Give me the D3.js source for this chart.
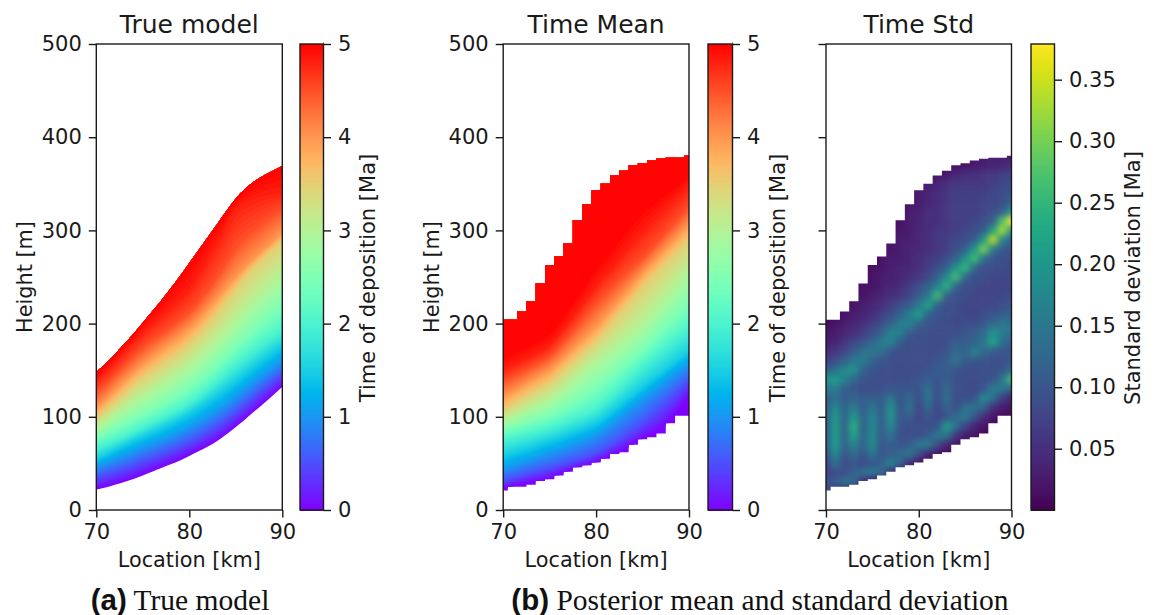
<!DOCTYPE html>
<html>
<head>
<meta charset="utf-8">
<script src="https://d3js.org/d3.v7.min.js"></script>
<style>
html, body { margin: 0; padding: 0; background: #fff; }
svg { display: block; }
text { font-family: "DejaVu Sans"; fill: #1a1a1a; }
.tick text { font-size: 21px; }
.tick line { stroke: #1a1a1a; stroke-width: 1.4; }
text.caption { font-family: "Liberation Serif"; font-size: 29.5px; fill: #111; }
</style>
</head>
<body>
<div id="chart"></div>
<script>
// km along the section, one value per model column
const locations = d3.range(70, 91);

// deposition times that the isochrones below belong to
const timeLevels = [0, 0.5, 1, 1.5, 2, 2.5, 3, 3.5, 4, 4.5, 4.8, 5];

// true model: height [m] of each isochrone per column
const trueIsochrones = [
    [22, 24, 27, 30, 33, 37, 41, 45, 49, 53, 58, 63, 68, 74, 81, 89, 97, 106, 114, 123, 132],
    [35, 38, 41, 44, 48, 52, 56, 60, 64, 68, 73, 78, 84, 90, 97, 105, 113, 122, 130, 138, 146],
    [46, 50, 54, 58, 62, 66, 70, 74, 78, 83, 88, 93, 99, 106, 113, 121, 129, 137, 145, 152, 160],
    [55, 60, 65, 70, 75, 79, 84, 88, 93, 98, 104, 110, 117, 124, 131, 139, 147, 155, 163, 170, 177],
    [67, 71, 75, 79, 84, 89, 94, 99, 104, 109, 115, 122, 130, 139, 148, 157, 165, 173, 180, 187, 193],
    [78, 83, 88, 93, 98, 103, 108, 113, 119, 125, 132, 140, 148, 157, 166, 176, 185, 195, 204, 212, 220],
    [88, 95, 102, 109, 116, 122, 128, 135, 141, 148, 155, 163, 172, 182, 192, 203, 214, 224, 234, 243, 252],
    [99, 107, 116, 125, 134, 142, 149, 156, 163, 170, 178, 188, 199, 211, 224, 238, 250, 261, 270, 279, 288],
    [110, 119, 129, 139, 148, 157, 165, 172, 180, 187, 195, 205, 216, 228, 240, 251, 261, 271, 280, 289, 298],
    [126, 135, 145, 155, 165, 174, 182, 189, 196, 204, 212, 223, 236, 250, 266, 282, 293, 301, 309, 316, 323],
    [138, 148, 158, 169, 180, 190, 199, 208, 217, 226, 235, 252, 269, 286, 305, 325, 330, 334, 337, 339, 340],
    [148, 157, 167, 178, 189, 201, 213, 225, 238, 251, 265, 279, 293, 307, 321, 335, 345, 353, 359, 364, 369]
];

// posterior mean: same isochrones as seen in the inverted section
const meanIsochrones = [
    [22, 25, 27, 29, 31, 33, 37, 41, 45, 47, 50, 55, 60, 62, 70, 76, 80, 85, 95, 108, 122],
    [32, 34, 37, 40, 42, 45, 48, 51, 54, 57, 61, 66, 72, 79, 86, 93, 102, 111, 120, 130, 139],
    [43, 47, 50, 53, 57, 60, 63, 67, 71, 75, 79, 86, 94, 102, 110, 117, 125, 133, 141, 148, 156],
    [59, 62, 65, 68, 72, 75, 78, 82, 86, 90, 94, 101, 109, 117, 125, 133, 141, 148, 156, 164, 171],
    [75, 78, 80, 83, 85, 88, 92, 96, 100, 104, 109, 118, 127, 136, 146, 155, 163, 172, 180, 188, 196],
    [86, 89, 92, 95, 99, 102, 107, 113, 119, 125, 132, 140, 148, 157, 165, 173, 183, 193, 203, 212, 222],
    [96, 100, 105, 109, 114, 118, 126, 135, 143, 152, 160, 167, 175, 183, 191, 199, 211, 223, 234, 246, 257],
    [107, 113, 119, 125, 131, 136, 145, 154, 163, 172, 180, 192, 204, 215, 227, 239, 249, 260, 270, 280, 290],
    [122, 127, 133, 139, 145, 150, 159, 169, 178, 188, 197, 209, 220, 232, 243, 255, 265, 276, 286, 297, 307],
    [138, 143, 148, 154, 159, 164, 175, 186, 198, 210, 222, 232, 242, 252, 261, 270, 281, 292, 303, 314, 325],
    [150, 155, 160, 165, 170, 175, 188, 200, 213, 227, 240, 252, 263, 275, 287, 298, 308, 318, 328, 338, 347],
    [165, 170, 175, 180, 185, 190, 204, 218, 233, 248, 262, 275, 288, 300, 313, 325, 332, 339, 346, 354, 361]
];

// upper and lower limit of the inverted section per column
const posteriorTop = [204, 204, 213, 224, 243, 263, 272, 286, 311, 328, 343, 350, 359, 364, 370, 372, 375, 377, 378, 378, 380];
const posteriorBottom = [21, 25, 25, 27, 31, 33, 37, 41, 46, 48, 51, 55, 60, 62, 70, 76, 78, 82, 93, 101, 101];

// row heights [m] for the std matrix, top row first
const stdHeights = d3.range(380, 10, -10);

// posterior std [Ma], rows follow stdHeights, columns follow locations
const stdValues = [
    [.01, .01, .01, .01, .01, .01, .01, .01, .01, .01, .01, .01, .01, .01, .01, .02, .02, .03, .03, .03, .03],
    [.01, .01, .01, .01, .01, .01, .01, .01, .01, .01, .01, .01, .01, .01, .02, .02, .03, .03, .04, .04, .05],
    [.01, .01, .01, .01, .01, .01, .01, .01, .01, .01, .01, .01, .02, .03, .04, .05, .05, .06, .06, .07, .08],
    [.01, .01, .01, .01, .01, .01, .01, .01, .01, .01, .02, .03, .04, .05, .06, .06, .06, .06, .07, .08, .09],
    [.01, .01, .01, .01, .01, .01, .01, .01, .01, .02, .03, .04, .05, .06, .07, .07, .07, .07, .08, .09, .10],
    [.01, .01, .01, .01, .01, .01, .01, .01, .01, .02, .03, .04, .05, .06, .07, .07, .07, .08, .08, .09, .12],
    [.01, .01, .01, .01, .01, .01, .01, .01, .02, .03, .03, .05, .05, .06, .07, .07, .07, .08, .09, .11, .20],
    [.01, .01, .01, .01, .01, .01, .01, .01, .02, .03, .04, .05, .05, .06, .07, .07, .08, .09, .11, .27, .42],
    [.01, .01, .01, .01, .01, .01, .01, .02, .02, .03, .04, .05, .06, .06, .07, .08, .09, .11, .22, .33, .20],
    [.01, .01, .01, .01, .01, .01, .01, .02, .03, .03, .04, .05, .06, .07, .08, .09, .11, .20, .34, .17, .12],
    [.01, .01, .01, .01, .01, .01, .02, .02, .03, .04, .04, .05, .06, .07, .09, .12, .20, .30, .16, .11, .10],
    [.01, .01, .01, .01, .01, .01, .02, .03, .03, .04, .05, .06, .07, .09, .12, .19, .26, .14, .10, .09, .09],
    [.01, .01, .01, .01, .01, .02, .02, .03, .04, .04, .05, .07, .09, .12, .19, .25, .13, .09, .09, .09, .08],
    [.01, .01, .01, .01, .01, .02, .03, .03, .04, .05, .06, .08, .12, .18, .26, .13, .09, .09, .08, .08, .08],
    [.01, .01, .01, .01, .02, .02, .03, .04, .05, .07, .09, .12, .17, .24, .12, .09, .09, .08, .08, .08, .08],
    [.01, .01, .01, .01, .02, .03, .04, .05, .06, .08, .11, .15, .26, .12, .09, .09, .08, .08, .08, .08, .09],
    [.01, .01, .01, .02, .03, .04, .05, .07, .09, .11, .15, .22, .12, .09, .09, .08, .08, .08, .08, .09, .10],
    [.01, .01, .02, .03, .04, .05, .07, .09, .12, .16, .21, .12, .10, .09, .09, .08, .08, .09, .10, .11, .12],
    [.01, .02, .03, .04, .05, .07, .09, .12, .16, .17, .12, .10, .09, .09, .08, .09, .09, .10, .13, .15, .14],
    [.02, .03, .04, .05, .07, .09, .12, .17, .16, .11, .09, .09, .09, .09, .09, .10, .11, .13, .19, .16, .14],
    [.03, .04, .06, .08, .10, .13, .16, .17, .11, .09, .09, .09, .09, .09, .11, .11, .12, .15, .22, .14, .11],
    [.05, .06, .08, .11, .14, .15, .14, .10, .09, .09, .09, .09, .09, .10, .13, .12, .17, .13, .11, .10, .10],
    [.07, .09, .12, .15, .16, .12, .10, .09, .09, .09, .09, .09, .10, .11, .14, .11, .10, .10, .09, .09, .10],
    [.12, .14, .18, .19, .12, .10, .09, .09, .09, .09, .09, .10, .11, .11, .10, .09, .09, .09, .09, .10, .14],
    [.19, .21, .17, .12, .10, .09, .09, .09, .09, .09, .10, .11, .10, .11, .09, .09, .09, .09, .10, .15, .26],
    [.15, .16, .11, .10, .09, .09, .09, .10, .10, .10, .10, .14, .09, .13, .09, .09, .08, .10, .16, .15, .12],
    [.11, .14, .11, .12, .11, .11, .11, .15, .10, .13, .09, .15, .09, .14, .09, .09, .10, .18, .14, .07, .04],
    [.11, .18, .12, .16, .11, .15, .11, .19, .10, .14, .08, .13, .08, .12, .09, .14, .14, .12, .05, .03, .02],
    [.11, .20, .12, .20, .12, .17, .11, .20, .10, .11, .08, .10, .08, .10, .13, .16, .10, .05, .02, .01, .01],
    [.11, .21, .12, .24, .12, .18, .11, .18, .10, .09, .09, .09, .10, .21, .14, .08, .04, .02, .01, .01, .01],
    [.11, .21, .12, .22, .12, .18, .11, .14, .09, .09, .09, .11, .15, .15, .06, .03, .02, .01, .01, .01, .01],
    [.11, .21, .12, .17, .12, .18, .10, .11, .10, .11, .15, .16, .09, .04, .02, .01, .01, .01, .01, .01, .01],
    [.10, .18, .10, .13, .10, .15, .10, .11, .13, .15, .09, .04, .02, .01, .01, .01, .01, .01, .01, .01, .01],
    [.08, .14, .09, .10, .09, .10, .12, .17, .12, .05, .02, .01, .01, .01, .01, .01, .01, .01, .01, .01, .01],
    [.07, .09, .09, .11, .14, .15, .13, .05, .02, .01, .01, .01, .01, .01, .01, .01, .01, .01, .01, .01, .01],
    [.09, .11, .14, .13, .05, .02, .01, .01, .01, .01, .01, .01, .01, .01, .01, .01, .01, .01, .01, .01, .01],
    [.10, .05, .02, .01, .01, .01, .01, .01, .01, .01, .01, .01, .01, .01, .01, .01, .01, .01, .01, .01, .01]
];

const xTicks = [70, 80, 90];
const yTicks = [0, 100, 200, 300, 400, 500];
const timeTicks = [0, 1, 2, 3, 4, 5];
const stdTicks = [0.05, 0.10, 0.15, 0.20, 0.25, 0.30, 0.35];
const stdRange = [0.0002, 0.379];

const width = 1157, height = 615;
const plotTop = 44, plotBottom = 510;

const svg = d3.select("#chart").append("svg")
    .attr("width", width)
    .attr("height", height);
const defs = svg.append("defs");

defs.append("filter")
    .attr("id", "smooth")
    .attr("filterUnits", "userSpaceOnUse")
    .attr("x", 0).attr("y", 0).attr("width", width).attr("height", height)
    .append("feGaussianBlur")
    .attr("stdDeviation", 3)
    .attr("color-interpolation-filters", "sRGB");

// matplotlib's "rainbow" map
function rainbow(v) {
    const r = Math.min(1, Math.abs(2 * v - 0.5));
    const g = Math.sin(Math.PI * v);
    const b = Math.cos(Math.PI * v / 2);
    return d3.rgb(r * 255, g * 255, b * 255).formatHex();
}

const timeColor = d3.scaleSequential(rainbow).domain([0, 5]);
const stdColor = d3.scaleSequential(d3.interpolateViridis).domain(stdRange);

const yScale = d3.scaleLinear().domain([0, 500]).range([plotBottom, plotTop]);

function makePlot(id, left, right, title, showLabels) {
    const x = d3.scaleLinear().domain([70, 90]).range([left, right]);
    const clipId = "clip-" + id;
    defs.append("clipPath").attr("id", clipId)
        .append("rect")
        .attr("x", left).attr("y", plotTop)
        .attr("width", right - left).attr("height", plotBottom - plotTop);

    const marks = svg.append("g").attr("clip-path", `url(#${clipId})`);

    svg.append("text")
        .attr("x", (left + right) / 2)
        .attr("y", 33)
        .attr("text-anchor", "middle")
        .style("font-size", "25px")
        .text(title);

    svg.append("text")
        .attr("x", (left + right) / 2)
        .attr("y", 567)
        .attr("text-anchor", "middle")
        .style("font-size", "20.8px")
        .text("Location [km]");

    return { x, marks, left, right, showLabels };
}

function finishPlot(plot) {
    const xAxis = d3.axisBottom(plot.x).tickValues(xTicks).tickSize(7.5).tickPadding(7).tickSizeOuter(0);
    const yAxis = d3.axisLeft(yScale).tickValues(yTicks).tickSize(7.5).tickPadding(7).tickSizeOuter(0);
    if (!plot.showLabels) yAxis.tickFormat("");

    const gx = svg.append("g").attr("transform", `translate(0,${plotBottom})`).call(xAxis);
    const gy = svg.append("g").attr("transform", `translate(${plot.left},0)`).call(yAxis);
    gx.select(".domain").remove();
    gy.select(".domain").remove();

    svg.append("rect")
        .attr("x", plot.left).attr("y", plotTop)
        .attr("width", plot.right - plot.left).attr("height", plotBottom - plotTop)
        .attr("fill", "none")
        .attr("stroke", "#1a1a1a")
        .attr("stroke-width", 1.4);

    if (plot.showLabels) {
        svg.append("text")
            .attr("transform", `translate(${plot.left - 64},${(plotTop + plotBottom) / 2}) rotate(-90)`)
            .attr("text-anchor", "middle")
            .style("font-size", "20.8px")
            .text("Height [m]");
    }
}

function drawColorbar(left, right, color, domain, ticks, format, label, labelX) {
    const scale = d3.scaleLinear().domain(domain).range([plotBottom, plotTop]);
    const steps = d3.range(256).map(i => domain[0] + (domain[1] - domain[0]) * i / 255);
    const stepHeight = (plotBottom - plotTop) / 255;

    svg.append("g").attr("shape-rendering", "crispEdges").selectAll("rect")
        .data(steps)
        .join("rect")
        .attr("x", left)
        .attr("y", d => scale(d) - stepHeight)
        .attr("width", right - left)
        .attr("height", stepHeight + 1)
        .attr("fill", d => color(d));

    const axis = d3.axisRight(scale).tickValues(ticks).tickFormat(format).tickSize(7.5).tickPadding(7).tickSizeOuter(0);
    const g = svg.append("g").attr("transform", `translate(${right},0)`).call(axis);
    g.select(".domain").remove();

    // white strip keeps the bar inside its frame at the top
    svg.append("rect")
        .attr("x", left).attr("y", plotTop - 6)
        .attr("width", right - left).attr("height", 6)
        .attr("fill", "#fff");

    svg.append("rect")
        .attr("x", left).attr("y", plotTop)
        .attr("width", right - left).attr("height", plotBottom - plotTop)
        .attr("fill", "none")
        .attr("stroke", "#1a1a1a")
        .attr("stroke-width", 1.4);

    svg.append("text")
        .attr("transform", `translate(${labelX},${(plotTop + plotBottom) / 2 + 1}) rotate(-90)`)
        .attr("text-anchor", "middle")
        .style("font-size", "21px")
        .text(label);
}

// paints thin layers from old to young, each one reaching up to the ceiling
function drawLayers(plot, isochrones, ceiling) {
    const byColumn = locations.map((km, i) =>
        d3.scaleLinear().domain(timeLevels).range(isochrones.map(row => row[i])));
    const layers = d3.range(0, 5, 0.05);

    const area = d3.area()
        .x((km) => plot.x(km))
        .curve(d3.curveBasis);

    plot.marks.append("g").selectAll("path")
        .data(layers)
        .join("path")
        .attr("d", t => area
            .y0((km, i) => yScale(byColumn[i](t)))
            .y1((km, i) => yScale(ceiling[i]))(locations))
        .attr("fill", t => timeColor(t + 0.025));
}

function stairClip(id, plot) {
    const area = d3.area()
        .x((km) => plot.x(km))
        .y0((km, i) => yScale(posteriorBottom[i]))
        .y1((km, i) => yScale(posteriorTop[i]))
        .curve(d3.curveStep);
    defs.append("clipPath").attr("id", id)
        .append("path")
        .attr("d", area(locations));
}

// panel (a)
const plotA = makePlot("a", 96.3, 282.3, "True model", true);
drawLayers(plotA, trueIsochrones, trueIsochrones[trueIsochrones.length - 1]);
finishPlot(plotA);
drawColorbar(300, 323.5, timeColor, [0, 5], timeTicks, d3.format("d"), "Time of deposition [Ma]", 375);

// panel (b) mean
const plotB = makePlot("b", 503.2, 689, "Time Mean", true);
stairClip("stairs-b", plotB);
const meanGroup = plotB.marks.append("g").attr("clip-path", "url(#stairs-b)");
meanGroup.append("rect")
    .attr("x", plotB.left).attr("y", plotTop)
    .attr("width", plotB.right - plotB.left).attr("height", plotBottom - plotTop)
    .attr("fill", timeColor(0));
drawLayers({ x: plotB.x, marks: meanGroup }, meanIsochrones, locations.map(() => 500));
finishPlot(plotB);
drawColorbar(708, 732.5, timeColor, [0, 5], timeTicks, d3.format("d"), "Time of deposition [Ma]", 785);

// panel (b) std
const plotC = makePlot("c", 826, 1011.5, "Time Std", false);
stairClip("stairs-c", plotC);
const stdCells = [];
stdValues.forEach((row, r) => row.forEach((value, c) => {
    stdCells.push({ km: locations[c], h: stdHeights[r], value, r, c });
}));
plotC.marks.append("g").attr("clip-path", "url(#stairs-c)")
    .append("g").attr("filter", "url(#smooth)")
    .selectAll("rect")
    .data(stdCells)
    .join("rect")
    .attr("x", d => plotC.x(d.km - (d.c === 0 ? 3 : 0.5)))
    .attr("width", d => plotC.x(d.km + (d.c === locations.length - 1 ? 3 : 0.5)) - plotC.x(d.km - (d.c === 0 ? 3 : 0.5)) + 0.5)
    .attr("y", d => yScale(d.h + (d.r === 0 ? 30 : 5)))
    .attr("height", d => yScale(d.h - (d.r === stdHeights.length - 1 ? 30 : 5)) - yScale(d.h + (d.r === 0 ? 30 : 5)) + 0.5)
    .attr("fill", d => stdColor(d.value));
finishPlot(plotC);
drawColorbar(1031, 1054.5, stdColor, stdRange, stdTicks, d3.format(".2f"), "Standard deviation [Ma]", 1140);

// sub-figure captions
function caption(cx, tag, rest) {
    const t = svg.append("text")
        .attr("class", "caption")
        .attr("x", cx)
        .attr("y", 610)
        .attr("text-anchor", "middle");
    t.append("tspan")
        .style("font-family", "Liberation Sans")
        .style("font-weight", "bold")
        .text(tag);
    t.append("tspan").text(" " + rest);
}
caption(180, "(a)", "True model");
caption(760, "(b)", "Posterior mean and standard deviation");
</script>
</body>
</html>
